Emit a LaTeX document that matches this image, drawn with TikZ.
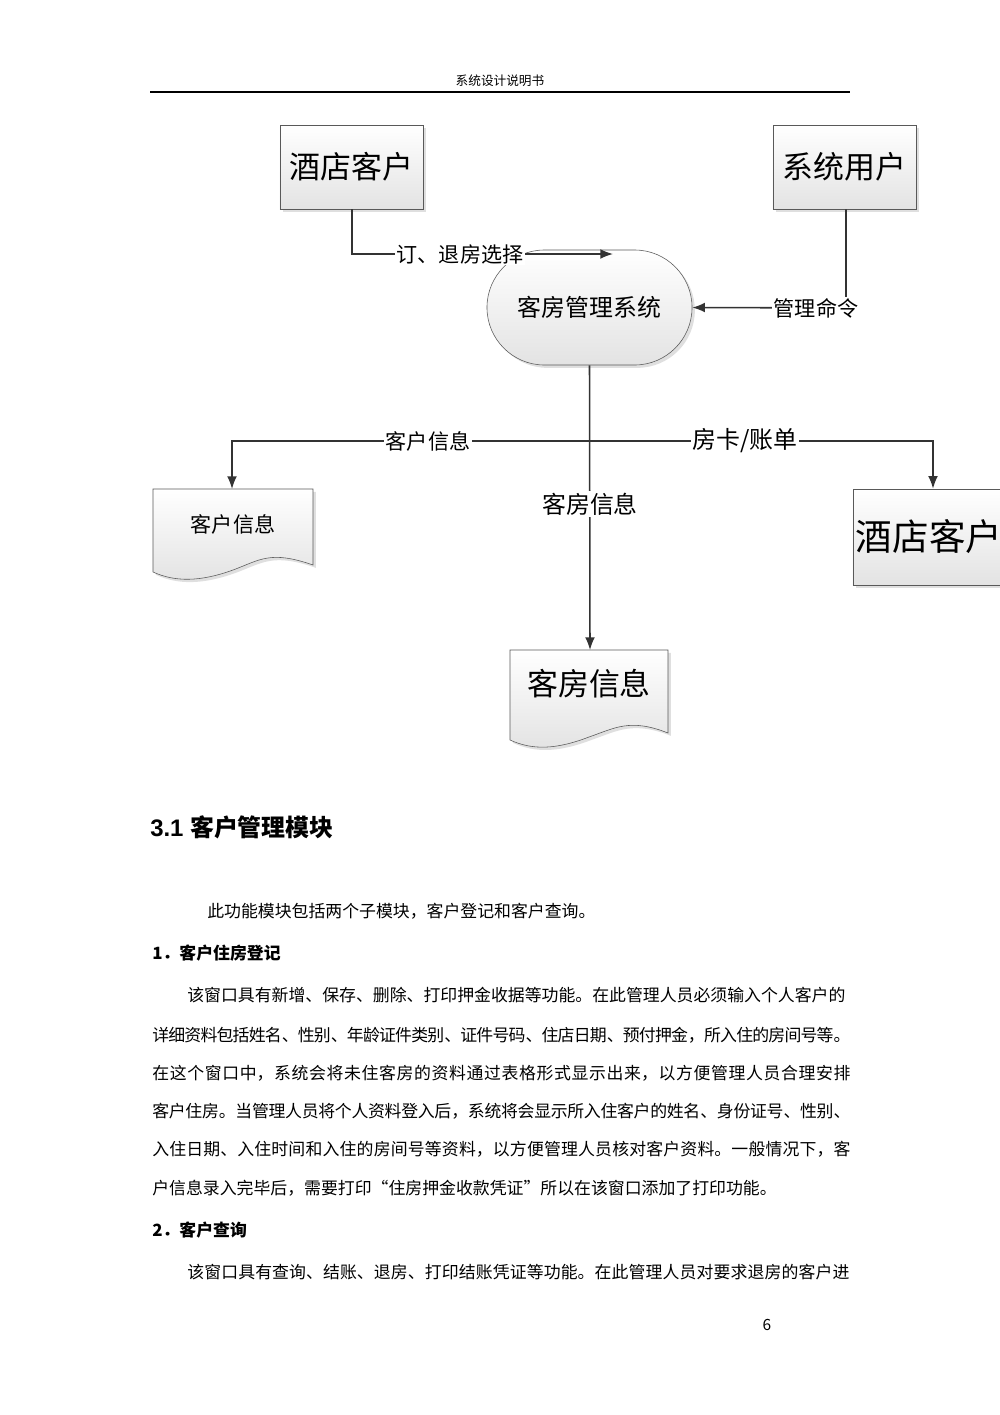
\documentclass[tikz,border=0pt]{standalone}
\usepackage{fontspec}
\setmainfont{Noto Sans CJK SC}
\newfontfamily\latinb{Liberation Sans}
\usetikzlibrary{shapes.misc,shadows,arrows.meta}
\XeTeXlinebreaklocale "zh"
\XeTeXlinebreakskip=0pt plus 2pt minus 1pt
\tikzset{
  box/.style={draw=gray!70!black, top color=white, bottom color=gray!22, drop shadow={opacity=0.25,shadow xshift=2pt,shadow yshift=-2pt}, minimum width=3.575cm, minimum height=2.1cm, inner sep=0pt},
  conn/.style={draw=black!80, line width=1.1pt, -{Latex[length=9pt,width=7pt]}},
  lab/.style={fill=white, inner sep=1pt, font=\fontsize{15}{18}\selectfont},
  body/.style={anchor=north west, inner sep=0pt, text width=17.45cm, align=justify, font=\fontsize{12}{14}\selectfont},
  docsh/.style={draw=gray!70!black, top color=white, bottom color=gray!22, drop shadow={opacity=0.25,shadow xshift=2pt,shadow yshift=-2pt}}
}
\begin{document}
\begin{tikzpicture}[x=0.025cm,y=-0.025cm]
\useasboundingbox (0,0) rectangle (1000,1415);
\fill[white] (0,0) rectangle (1000,1415);
\clip (0,0) rectangle (1000,1415);
% header
\node[font=\fontsize{9}{11}\selectfont] (hdr) at (500,81) {系统设计说明书};
\draw[line width=0.8pt] (150,92) -- (850,92);
% boxes
\node[box, font=\fontsize{22}{26}\selectfont] (c1) at (351.5,167) {酒店客户};
\node[box, font=\fontsize{22}{26}\selectfont] (u1) at (844.5,167) {系统用户};
\node[rounded rectangle, draw=gray!70!black, top color=white, bottom color=gray!22, drop shadow={opacity=0.25,shadow xshift=2pt,shadow yshift=-2pt}, minimum width=5.125cm, minimum height=2.875cm, inner sep=0pt, font=\fontsize{17}{20}\selectfont] (sys) at (589.5,307.5) {客房管理系统};
\node[box, minimum width=3.8cm, minimum height=2.4cm, font=\fontsize{26}{30}\selectfont] (c2) at (929,537) {酒店客户};
% doc shapes
\path[docsh] (153,489) -- (313,489) -- (313,565) .. controls (270,550) and (260,560) .. (233,570) .. controls (200,582) and (175,582) .. (153,572) -- cycle;
\node[font=\fontsize{15}{18}\selectfont] (d1) at (233,524) {客户信息};
\coordinate (d1top) at (232,489);
\path[docsh] (510,650) -- (668,650) -- (668,733) .. controls (630,718) and (615,728) .. (589,737) .. controls (555,750) and (532,750) .. (510,740) -- cycle;
\node[font=\fontsize{22}{26}\selectfont] (d2) at (589,684) {客房信息};
\coordinate (d2top) at (590,650);
% connectors
\coordinate (k1) at (352,254);
\coordinate (t1) at (613,254);
\draw[conn] (c1.south -| k1) -- (k1) -- (t1);
\node[lab] (l1) at (460,254) {订、退房选择};
\coordinate (k2) at (846,308);
\draw[conn] (u1.south -| k2) -- (k2) -- (sys.east);
\node[lab] (l2) at (816,308) {管理命令};
\coordinate (hl) at (232,441);
\coordinate (hr) at (933,441);
\draw[conn] (sys.south) -- (d2top);
\draw[conn] (hl -| sys.south) -- (hl) -- (d1top);
\draw[conn] (hr -| sys.south) -- (hr) -- (hr |- c2.north);
\node[lab] (l3) at (428,441) {客户信息};
\node[lab, font=\fontsize{17}{20}\selectfont] (l4) at (745,441) {房卡/账单};
\node[lab, font=\fontsize{17}{20}\selectfont] (l5) at (590,504) {客房信息};
% text
\node[anchor=west, inner sep=0pt, font=\latinb\bfseries\fontsize{17}{20}\selectfont] (h1) at (150,827) {3.1 {\fontspec{Noto Sans CJK SC}\bfseries 客户管理模块}};
\node[body, anchor=west] (p0) at (207,911) {此功能模块包括两个子模块，客户登记和客户查询。};
\node[body, anchor=west] (p1) at (152,953) {\bfseries 1．客户住房登记};
\node[body, anchor=west, text width=16.55cm] (p2) at (187,995) {该窗口具有新增、保存、删除、打印押金收据等功能。在此管理人员必须输入个人客户的\par};
\node[body, anchor=west] (p3) at (152,1035) {{\parfillskip=0pt 详细资料包括姓名、性别、年龄证件类别、证件号码、住店日期、预付押金，所入住的房间号等。\par}};
\node[body, anchor=west] (p4) at (152,1073) {{\parfillskip=0pt 在这个窗口中，系统会将未住客房的资料通过表格形式显示出来，以方便管理人员合理安排\par}};
\node[body, anchor=west] (p5) at (152,1111) {{\parfillskip=0pt 客户住房。当管理人员将个人资料登入后，系统将会显示所入住客户的姓名、身份证号、性别、\par}};
\node[body, anchor=west] (p6) at (152,1149) {{\parfillskip=0pt 入住日期、入住时间和入住的房间号等资料，以方便管理人员核对客户资料。一般情况下，客\par}};
\node[body, anchor=west] (p7) at (152,1188) {户信息录入完毕后，需要打印“住房押金收款凭证”所以在该窗口添加了打印功能。};
\node[body, anchor=west] (p8) at (152,1230) {\bfseries 2．客户查询};
\node[body, anchor=west, text width=16.55cm] (p9) at (187,1272) {{\parfillskip=0pt 该窗口具有查询、结账、退房、打印结账凭证等功能。在此管理人员对要求退房的客户进\par}};
\node[font=\fontsize{11}{13}\selectfont] (pg) at (767,1325) {6};
\end{tikzpicture}
\end{document}
